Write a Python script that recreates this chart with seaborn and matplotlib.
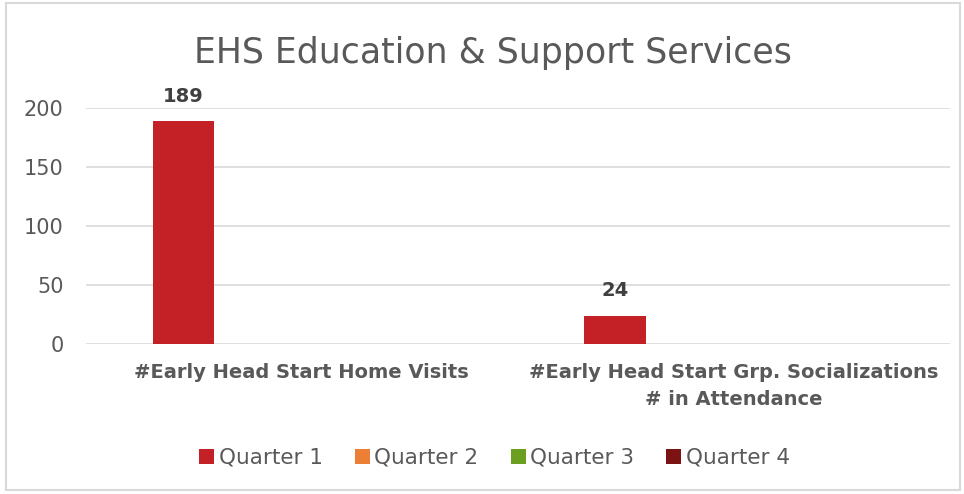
import matplotlib
matplotlib.use("Agg")
import matplotlib.pyplot as plt
import seaborn as sns
import pandas as pd
from matplotlib.patches import Rectangle, Patch

categories = ["#Early Head Start Home Visits",
              "#Early Head Start Grp. Socializations\n# in Attendance"]
quarters = ["Quarter 1", "Quarter 2", "Quarter 3", "Quarter 4"]
q1 = [189, 24]
q2 = [0, 0]
q3 = [0, 0]
q4 = [0, 0]
yticks = [0, 50, 100, 150, 200]
colors = ["#C32126", "#EB7F35", "#6A9F1F", "#7B1315"]
title = "EHS Education & Support Services"

rows = []
for q, vals in zip(quarters, [q1, q2, q3, q4]):
    for c, v in zip(categories, vals):
        rows.append({"Category": c, "Quarter": q, "Value": v})
df = pd.DataFrame(rows)

sns.set_theme(style="white")
plt.rcParams['font.family'] = ['DejaVu Sans']
grey = "#595959"

fig = plt.figure(figsize=(9.64, 4.94), dpi=100)
ax = fig.add_axes([0.089, 0.3036, 0.896, 0.478])
sns.barplot(data=df, x="Category", y="Value", hue="Quarter", order=categories,
            hue_order=quarters, palette=colors, width=0.73, gap=0.215,
            saturation=1, linewidth=0, ax=ax, legend=False)

ax.set_ylim(0, 200)
ax.set_yticks(yticks)
ax.set_xlim(-0.5, 1.5)
ax.yaxis.grid(True, color="#D9D9D9", linewidth=1.2)
ax.set_axisbelow(True)
for s in ax.spines.values():
    s.set_visible(False)
ax.set_xlabel("")
ax.set_ylabel("")
ax.tick_params(axis="y", labelsize=15, labelcolor=grey, length=0, pad=16)
ax.tick_params(axis="x", labelsize=14, labelcolor=grey, length=0, pad=14)
for lbl in ax.get_xticklabels():
    lbl.set_fontweight("bold")
    lbl.set_linespacing(1.5)

for cont in ax.containers:
    labels = [f"{v:g}" if v > 0 else "" for v in cont.datavalues]
    ax.bar_label(cont, labels=labels, padding=11, fontsize=14,
                 fontweight="bold", color="#404040")

fig.text(0.511, 0.893, title, ha="center", va="center", fontsize=25, color=grey)

handles = [Patch(facecolor=c, edgecolor="none") for c in colors]
fig.legend(handles, quarters, loc="center", bbox_to_anchor=(0.513, 0.073), ncol=4,
           frameon=False, fontsize=15.5, labelcolor=grey, handlelength=0.7,
           handleheight=0.7, handletextpad=0.2, columnspacing=1.5)

fig.patches.append(Rectangle((0.006, 0.008), 0.99, 0.985, transform=fig.transFigure,
                             fill=False, edgecolor="#D9D9D9", linewidth=1.5))

fig.savefig("out.png", dpi=100)
